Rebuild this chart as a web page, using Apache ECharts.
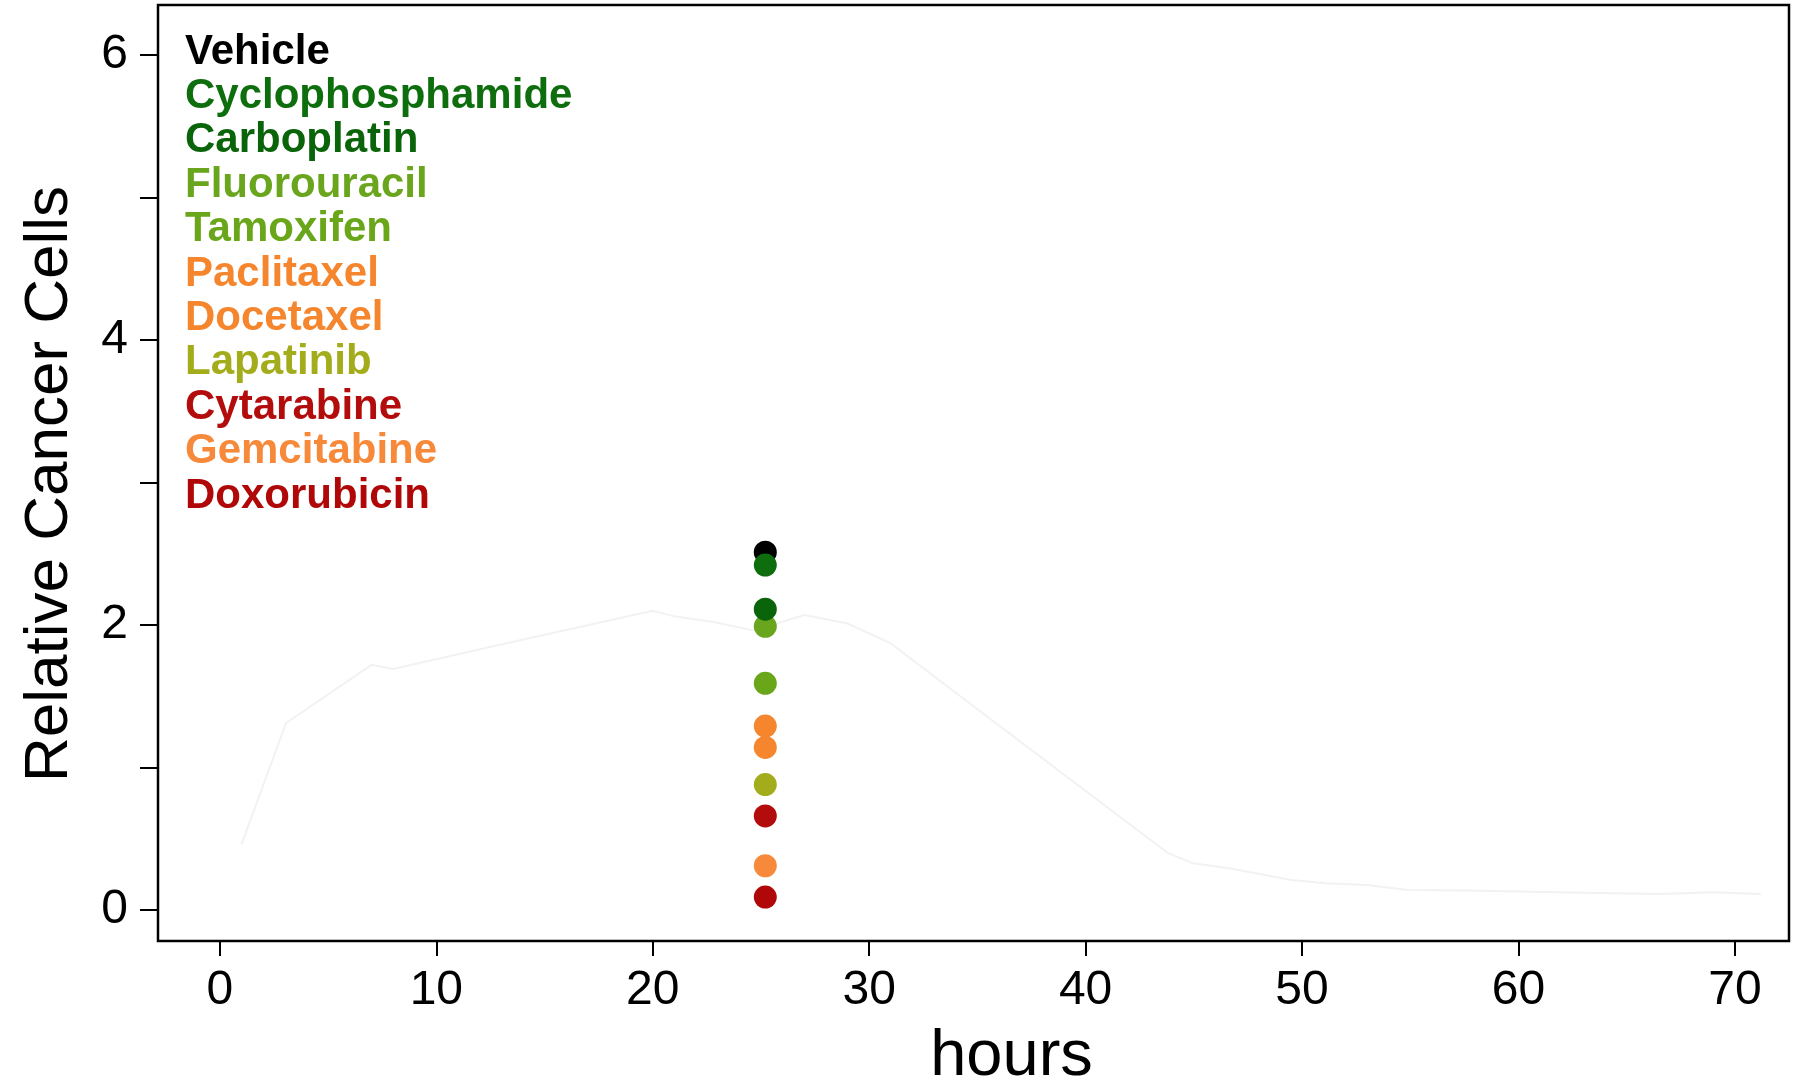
<!DOCTYPE html>
<html>
<head>
<meta charset="utf-8">
<title>Relative Cancer Cells</title>
<script src="https://cdn.jsdelivr.net/npm/echarts@6/dist/echarts.min.js"></script>
<style>
  html, body { margin: 0; padding: 0; background: #ffffff; }
  #chart { width: 1798px; height: 1082px; }
</style>
</head>
<body>
<div id="chart"></div>
<script>
// Treatments, measured at about 25 hours
const drugs = ['Vehicle', 'Cyclophosphamide', 'Carboplatin', 'Fluorouracil', 'Tamoxifen',
  'Paclitaxel', 'Docetaxel', 'Lapatinib', 'Cytarabine', 'Gemcitabine', 'Doxorubicin'];
const drugValues = [2.51, 2.42, 2.11, 1.99, 1.59, 1.29, 1.14, 0.88, 0.66, 0.31, 0.09];
const drugColors = ['#000000', '#0e6e0e', '#0a640a', '#6aa51e', '#6aa61a',
  '#f5862e', '#f5862e', '#a3ad1b', '#b30c0c', '#f7893a', '#b00808'];
const measureHour = 25.2;
// Order in which the dots are stacked (later ones sit on top)
const drawOrder = ['Vehicle', 'Cyclophosphamide', 'Fluorouracil', 'Carboplatin', 'Tamoxifen',
  'Paclitaxel', 'Docetaxel', 'Lapatinib', 'Cytarabine', 'Gemcitabine', 'Doxorubicin'];

// Faint background growth trace
const traceHours = [1, 3.05, 7, 8, 13.5, 20, 21, 22.8, 24.7, 27, 29, 31, 35.6, 43.8, 44.9, 46.7,
  49.5, 51.1, 53, 54.9, 57.6, 63, 66.5, 69, 71.2];
const traceValues = [0.46, 1.31, 1.72, 1.69, 1.88, 2.10, 2.06, 2.02, 1.96, 2.07, 2.01, 1.87, 1.34,
  0.40, 0.33, 0.29, 0.21, 0.187, 0.175, 0.14, 0.136, 0.121, 0.112, 0.124, 0.112];

// Axis ticks and labels
const xTicks = [0, 10, 20, 30, 40, 50, 60, 70];
const yTicks = [0, 1, 2, 3, 4, 5, 6];
const yLabels = [0, 2, 4, 6];

const FONT = '"Liberation Sans", Arial, Helvetica, sans-serif';

const chart = echarts.init(document.getElementById('chart'), null, { renderer: 'canvas' });

const traceSeries = {
  type: 'line',
  name: '_trace',
  data: traceHours.map((h, i) => [h, traceValues[i]]),
  symbol: 'none',
  silent: true,
  lineStyle: { color: '#f2f2f2', width: 2 },
  z: 1
};

const dotSeries = drawOrder.map((name, k) => {
  const i = drugs.indexOf(name);
  return {
    type: 'scatter',
    name: name,
    data: [[measureHour, drugValues[i]]],
    symbol: 'circle',
    symbolSize: 23,
    itemStyle: { color: drugColors[i], opacity: 1 },
    z: 2 + k
  };
});

chart.setOption({
  animation: false,
  backgroundColor: '#ffffff',
  grid: {
    left: 158, right: 9, top: 5, bottom: 141,
    outerBoundsMode: 'none',
    containLabel: false,
    show: true,
    borderColor: '#000000',
    borderWidth: 2.5,
    backgroundColor: 'transparent'
  },
  legend: {
    orient: 'vertical',
    left: 175,
    top: 26,
    itemWidth: 0,
    itemHeight: 0,
    itemGap: 2.4,
    icon: 'circle',
    selectedMode: false,
    data: drugs.map((d, i) => ({
      name: d,
      textStyle: { color: drugColors[i] }
    })),
    textStyle: {
      fontFamily: FONT,
      fontWeight: 'bold',
      fontSize: 42,
      lineHeight: 40
    }
  },
  xAxis: {
    type: 'value',
    min: -2.86,
    max: 72.5,
    name: 'hours',
    nameLocation: 'middle',
    nameGap: 84,
    nameTextStyle: {
      fontFamily: FONT, fontSize: 65, color: '#000000', lineHeight: 65,
      padding: [0, 0, 0, 76]
    },
    splitLine: { show: false },
    axisLine: { show: false, onZero: false },
    axisTick: {
      show: true, inside: false, length: 15,
      customValues: xTicks,
      lineStyle: { color: '#000000', width: 2 }
    },
    axisLabel: {
      customValues: xTicks,
      margin: 26,
      fontFamily: FONT, fontSize: 48, color: '#000000'
    }
  },
  yAxis: {
    type: 'value',
    min: -0.218,
    max: 6.35,
    name: 'Relative Cancer Cells',
    nameLocation: 'middle',
    nameGap: 77,
    nameRotate: 90,
    nameTextStyle: {
      fontFamily: FONT, fontSize: 62, color: '#000000', lineHeight: 62,
      padding: [0, 22, 0, 0]
    },
    splitLine: { show: false },
    axisLine: { show: false, onZero: false },
    axisTick: {
      show: true, inside: false, length: 18,
      customValues: yTicks,
      lineStyle: { color: '#000000', width: 2 }
    },
    axisLabel: {
      customValues: yLabels,
      margin: 30,
      fontFamily: FONT, fontSize: 48, color: '#000000'
    }
  },
  series: [traceSeries].concat(dotSeries)
});
</script>
</body>
</html>
